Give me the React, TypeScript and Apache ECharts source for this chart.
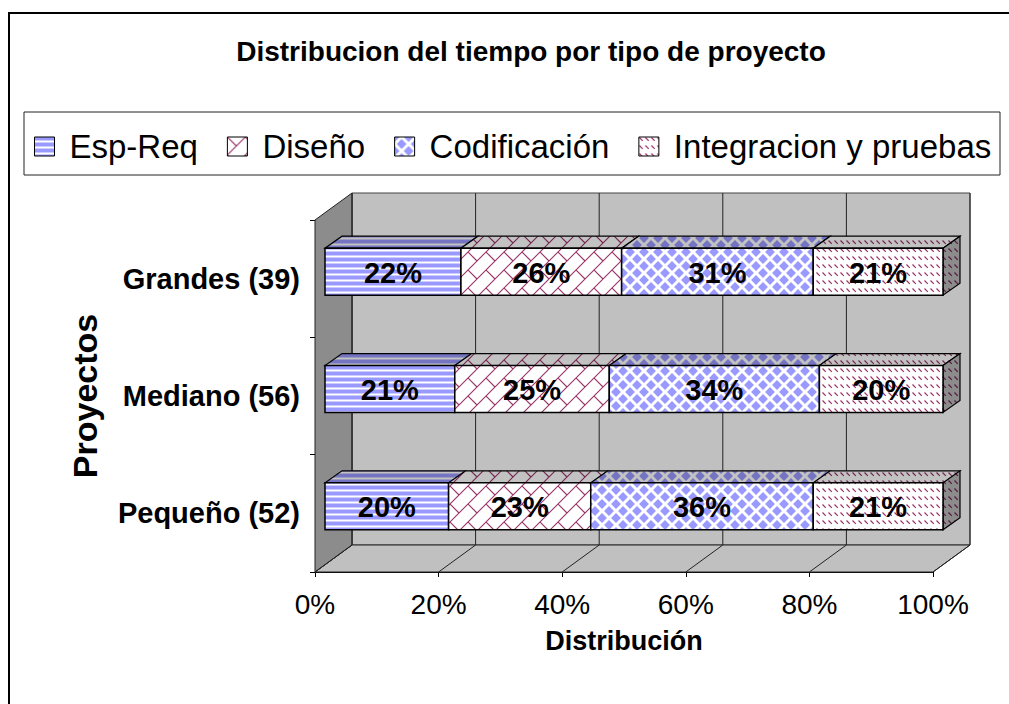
import React, { useEffect, useRef } from 'react';
import * as echarts from 'echarts';

// ---------------- data ----------------
const categories = ['Pequeño (52)', 'Mediano (56)', 'Grandes (39)'];
const seriesNames = ['Esp-Req', 'Diseño', 'Codificación', 'Integracion y pruebas'];
const espReq = [20, 21, 22];
const diseno = [23, 25, 26];
const codificacion = [36, 34, 31];
const integracion = [21, 20, 21];
const xTicks = [0, 20, 40, 60, 80, 100];
const titleText = 'Distribucion del tiempo por tipo de proyecto';
const xAxisName = 'Distribución';
const yAxisName = 'Proyectos';

const seriesValues = [espReq, diseno, codificacion, integracion];

// ---------------- style ----------------
const FONT = "'Liberation Sans', Arial, Helvetica, sans-serif";
const DEPTH = [37, -27]; // back wall offset from the front plane
const BAR_OFF = [10, -7]; // bar front face offset from the front plane
const BAR_DEPTH = [17, -12]; // bar thickness
const BLUE = '#9999FF';
const MAROON = '#993366';

function shade(hex: string, f: number) {
  const n = parseInt(hex.slice(1), 16);
  const r = Math.round(((n >> 16) & 255) * f);
  const g = Math.round(((n >> 8) & 255) * f);
  const b = Math.round((n & 255) * f);
  return `rgb(${r},${g},${b})`;
}

function makeCanvas(w: number, h: number, draw: (ctx: CanvasRenderingContext2D) => void) {
  const c = document.createElement('canvas');
  c.width = w;
  c.height = h;
  const ctx = c.getContext('2d')!;
  draw(ctx);
  return c;
}

function pat(c: HTMLCanvasElement) {
  return { image: c, repeat: 'repeat', imageWidth: c.width, imageHeight: c.height } as any;
}

function stripes(bg: string, fg: string, mid: string) {
  return makeCanvas(6, 6, (ctx) => {
    ctx.fillStyle = bg;
    ctx.fillRect(0, 0, 6, 6);
    ctx.fillStyle = fg;
    ctx.fillRect(0, 0, 6, 3);
    ctx.fillStyle = mid;
    ctx.fillRect(0, 3, 6, 1);
    ctx.fillRect(0, 5, 6, 1);
  });
}

function brick(bg: string, fg: string) {
  const s = 18;
  return makeCanvas(s, s, (ctx) => {
    ctx.fillStyle = bg;
    ctx.fillRect(0, 0, s, s);
    ctx.strokeStyle = fg;
    ctx.lineWidth = 1.1;
    ctx.beginPath();
    ctx.moveTo(-2, s + 2);
    ctx.lineTo(s + 2, -2);
    ctx.moveTo(-2, 2);
    ctx.lineTo(2, -2);
    ctx.moveTo(s - 2, s + 2);
    ctx.lineTo(s + 2, s - 2);
    ctx.moveTo(0, 0);
    ctx.lineTo(s / 2, s / 2);
    ctx.stroke();
  });
}

function diamonds(bg: string, fg: string) {
  const s = 14;
  const h = 4.9;
  return makeCanvas(s, s, (ctx) => {
    ctx.fillStyle = bg;
    ctx.fillRect(0, 0, s, s);
    ctx.fillStyle = fg;
    const centers = [[s / 2, s / 2], [0, 0], [s, 0], [0, s], [s, s]];
    centers.forEach(([cx, cy]) => {
      ctx.beginPath();
      ctx.moveTo(cx, cy - h);
      ctx.lineTo(cx + h, cy);
      ctx.lineTo(cx, cy + h);
      ctx.lineTo(cx - h, cy);
      ctx.closePath();
      ctx.fill();
    });
  });
}

function dashes(bg: string, fg: string) {
  return makeCanvas(6, 8, (ctx) => {
    ctx.fillStyle = bg;
    ctx.fillRect(0, 0, 6, 8);
    ctx.strokeStyle = fg;
    ctx.lineWidth = 1.2;
    ctx.beginPath();
    ctx.moveTo(0.5, 0.5);
    ctx.lineTo(3.8, 3.8);
    ctx.stroke();
  });
}

function buildPatterns(f: number) {
  const bg = shade('#FFFFFF', f);
  return [
    pat(stripes(bg, shade(BLUE, f), shade('#CCCCFF', f))),
    pat(brick(bg, shade(MAROON, f))),
    pat(diamonds(bg, shade(BLUE, f))),
    pat(dashes(bg, shade(MAROON, f))),
  ];
}

function buildOption() {
  const front = buildPatterns(1);
  const top = buildPatterns(0.76);
  const side = buildPatterns(0.55);

  const wallsSeries = {
    type: 'custom',
    name: 'walls',
    silent: true,
    clip: false,
    z: 1,
    encode: { x: 0, y: 1 },
    data: [[0, 0]],
    renderItem: (params: any, api: any) => {
      const cs = params.coordSys;
      const L = cs.x;
      const T = cs.y;
      const R = cs.x + cs.width;
      const B = cs.y + cs.height;
      const [dx, dy] = DEPTH;
      const children: any[] = [
        {
          type: 'polygon',
          shape: { points: [[L + dx, T + dy], [R + dx, T + dy], [R + dx, B + dy], [L + dx, B + dy]] },
          style: { fill: '#C0C0C0', stroke: '#444', lineWidth: 1 },
        },
        {
          type: 'polygon',
          shape: { points: [[L, B], [R, B], [R + dx, B + dy], [L + dx, B + dy]] },
          style: { fill: '#C0C0C0', stroke: '#222', lineWidth: 1 },
        },
        {
          type: 'polygon',
          shape: { points: [[L, T], [L + dx, T + dy], [L + dx, B + dy], [L, B]] },
          style: { fill: '#8C8C8C', stroke: '#222', lineWidth: 1 },
        },
      ];
      xTicks.forEach((v) => {
        const x = api.coord([v, 0])[0];
        children.push({
          type: 'line',
          shape: { x1: x + dx, y1: T + dy, x2: x + dx, y2: B + dy },
          style: { stroke: '#222', lineWidth: 1 },
        });
        children.push({
          type: 'line',
          shape: { x1: x, y1: B, x2: x + dx, y2: B + dy },
          style: { stroke: '#222', lineWidth: 1 },
        });
      });
      return { type: 'group', children };
    },
  };

  const barSeries = seriesValues.map((vals, k) => {
    const data = categories.map((_, i) => {
      let start = 0;
      for (let j = 0; j < k; j++) start += seriesValues[j][i];
      return [start, start + vals[i], i, vals[i]];
    });
    const isLast = k === seriesValues.length - 1;
    return {
      type: 'custom',
      name: seriesNames[k],
      clip: false,
      z: 3,
      itemStyle: { color: front[k], borderColor: '#000', borderWidth: 1 },
      encode: { x: [0, 1], y: 2 },
      data,
      renderItem: (params: any, api: any) => {
        const a = api.value(0);
        const b = api.value(1);
        const ci = api.value(2);
        const v = api.value(3);
        const p0 = api.coord([a, ci]);
        const p1 = api.coord([b, ci]);
        const half = api.size([0, 1])[1] * 0.2;
        const x0 = p0[0] + BAR_OFF[0];
        const x1 = p1[0] + BAR_OFF[0];
        const yc = p0[1] + BAR_OFF[1];
        const t = yc - half;
        const bt = yc + half;
        const [dx, dy] = BAR_DEPTH;
        const children: any[] = [
          {
            type: 'polygon',
            shape: { points: [[x0, t], [x1, t], [x1 + dx, t + dy], [x0 + dx, t + dy]] },
            style: { fill: top[k], stroke: '#000', lineWidth: 1.2 },
          },
        ];
        if (isLast) {
          children.push({
            type: 'polygon',
            shape: { points: [[x1, t], [x1 + dx, t + dy], [x1 + dx, bt + dy], [x1, bt]] },
            style: { fill: side[k], stroke: '#000', lineWidth: 1.2 },
          });
        }
        children.push({
          type: 'rect',
          shape: { x: x0, y: t, width: x1 - x0, height: bt - t },
          style: { fill: front[k], stroke: '#000', lineWidth: 1.5 },
        });
        children.push({
          type: 'text',
          z2: 10,
          style: {
            text: v + '%',
            x: (x0 + x1) / 2,
            y: yc + 1,
            align: 'center',
            verticalAlign: 'middle',
            fontSize: 29,
            fontWeight: 'bold',
            fontFamily: FONT,
            fill: '#000',
          },
        });
        return { type: 'group', children };
      },
    };
  });

  return {
    animation: false,
    backgroundColor: '#FFFFFF',
    textStyle: { fontFamily: FONT },
    title: {
      text: titleText,
      left: 526,
      top: 32,
      textAlign: 'center',
      textStyle: { fontSize: 28, fontWeight: 'bold', color: '#000', fontFamily: FONT },
    },
    legend: {
      left: 34,
      top: 130,
      padding: 0,
      itemWidth: 20,
      itemHeight: 19,
      itemGap: 29,
      selectedMode: false,
      textStyle: { fontSize: 33, color: '#000', fontFamily: FONT, padding: [0, 0, 0, 10] },
      data: seriesNames.map((n, k) => ({
        name: n,
        icon: 'rect',
        itemStyle: { color: front[k], borderColor: '#000', borderWidth: 1 },
      })),
    },
    grid: { left: 315, top: 220, width: 618, height: 352, containLabel: false },
    xAxis: {
      type: 'value',
      min: 0,
      max: 100,
      interval: 20,
      name: xAxisName,
      nameLocation: 'middle',
      nameGap: 55,
      nameTextStyle: { fontSize: 27, fontWeight: 'bold', color: '#000', fontFamily: FONT },
      axisLine: { show: true, lineStyle: { color: '#000', width: 1 } },
      axisTick: { show: true, length: 5, lineStyle: { color: '#000' } },
      axisLabel: { fontSize: 28, color: '#000', margin: 18, formatter: '{value}%', fontFamily: FONT },
      splitLine: { show: false },
    },
    yAxis: {
      type: 'category',
      data: categories,
      name: yAxisName,
      nameLocation: 'middle',
      nameRotate: 90,
      nameGap: 213,
      nameTextStyle: { fontSize: 34, fontWeight: 'bold', color: '#000', fontFamily: FONT },
      axisLine: { show: true, lineStyle: { color: '#000', width: 1 } },
      axisTick: { show: true, length: 5, lineStyle: { color: '#000' } },
      axisLabel: { fontSize: 29, fontWeight: 'bold', color: '#000', margin: 15, fontFamily: FONT },
      splitLine: { show: false },
    },
    graphic: [
      {
        type: 'rect',
        z: 100,
        silent: true,
        shape: { x: 9, y: 13, width: 1020, height: 720 },
        style: { fill: 'none', stroke: '#000', lineWidth: 2 },
      },
      {
        type: 'rect',
        z: 100,
        silent: true,
        shape: { x: 24, y: 112, width: 976, height: 63 },
        style: { fill: 'none', stroke: '#222', lineWidth: 1 },
      },
    ],
    series: [wallsSeries, ...barSeries],
  };
}

export default function App() {
  const ref = useRef<HTMLDivElement>(null);
  useEffect(() => {
    const chart = echarts.init(ref.current!, null, { renderer: 'svg' });
    chart.setOption(buildOption() as any);
    return () => chart.dispose();
  }, []);
  return (
    <div
      ref={ref}
      style={{ position: 'absolute', left: 0, top: 0, width: 1009, height: 704, background: '#fff' }}
    />
  );
}
